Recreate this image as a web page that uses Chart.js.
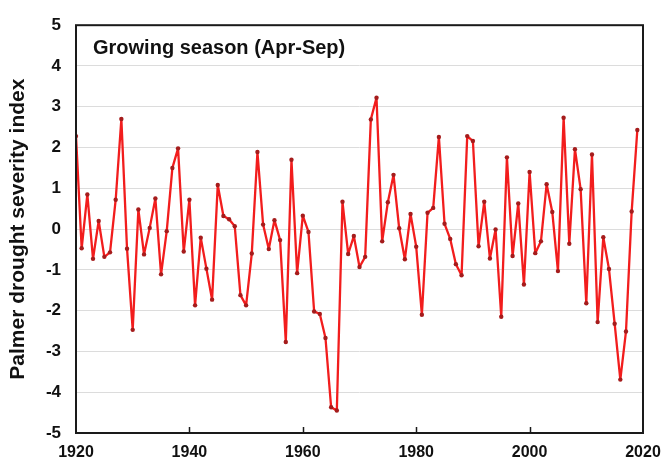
<!DOCTYPE html>
<html lang="en">
<head>
    <meta charset="UTF-8">
    <title>Palmer drought severity index</title>
    <script src="https://cdn.jsdelivr.net/npm/chart.js"></script>
    <style>
        html, body {
            margin: 0;
            padding: 0;
            background: #ffffff;
        }

        .chart-container {
            width: 663px;
            height: 461px;
        }
    </style>
</head>
<body>
    <div class="chart-container">
        <canvas id="pdsiChart"></canvas>
    </div>

    <script>
        // Data
        const years = [
            1920, 1921, 1922, 1923, 1924, 1925, 1926, 1927, 1928, 1929,
            1930, 1931, 1932, 1933, 1934, 1935, 1936, 1937, 1938, 1939,
            1940, 1941, 1942, 1943, 1944, 1945, 1946, 1947, 1948, 1949,
            1950, 1951, 1952, 1953, 1954, 1955, 1956, 1957, 1958, 1959,
            1960, 1961, 1962, 1963, 1964, 1965, 1966, 1967, 1968, 1969,
            1970, 1971, 1972, 1973, 1974, 1975, 1976, 1977, 1978, 1979,
            1980, 1981, 1982, 1983, 1984, 1985, 1986, 1987, 1988, 1989,
            1990, 1991, 1992, 1993, 1994, 1995, 1996, 1997, 1998, 1999,
            2000, 2001, 2002, 2003, 2004, 2005, 2006, 2007, 2008, 2009,
            2010, 2011, 2012, 2013, 2014, 2015, 2016, 2017, 2018, 2019
        ];
        const pdsi = [
            2.28, -0.47, 0.85, -0.73, 0.20, -0.68, -0.57, 0.72, 2.70, -0.48,
            -2.47, 0.48, -0.62, 0.03, 0.75, -1.11, -0.05, 1.50, 1.98, -0.55,
            0.72, -1.87, -0.21, -0.97, -1.73, 1.08, 0.32, 0.24, 0.07, -1.62,
            -1.87, -0.60, 1.89, 0.11, -0.49, 0.22, -0.27, -2.77, 1.70, -1.08,
            0.33, -0.07, -2.02, -2.08, -2.67, -4.37, -4.45, 0.67, -0.61, -0.17,
            -0.93, -0.68, 2.69, 3.22, -0.30, 0.66, 1.33, 0.02, -0.74, 0.37,
            -0.43, -2.10, 0.40, 0.52, 2.26, 0.13, -0.24, -0.86, -1.13, 2.28,
            2.16, -0.42, 0.67, -0.72, -0.01, -2.15, 1.76, -0.66, 0.63, -1.36,
            1.40, -0.59, -0.30, 1.10, 0.42, -1.03, 2.73, -0.36, 1.96, 0.98,
            -1.82, 1.83, -2.28, -0.20, -0.98, -2.32, -3.69, -2.51, 0.43, 2.43
        ];
        const xTicks = [1920, 1940, 1960, 1980, 2000, 2020];
        const yTicks = [-5, -4, -3, -2, -1, 0, 1, 2, 3, 4, 5];
        const panelTitle = 'Growing season (Apr-Sep)';

        const fontFamily = '"Liberation Sans", Arial, sans-serif';

        // Frame, inward x ticks and the panel label
        const framePlugin = {
            id: 'frame',
            afterDatasetsDraw(chart) {
                const { ctx, chartArea: a, scales } = chart;
                ctx.save();
                ctx.strokeStyle = '#1a1a1a';
                ctx.lineWidth = 2;
                ctx.strokeRect(a.left, a.top, a.right - a.left, a.bottom - a.top);

                ctx.lineWidth = 1.5;
                xTicks.slice(1, -1).forEach(v => {
                    const px = Math.round(scales.x.getPixelForValue(v)) + 0.5;
                    ctx.beginPath();
                    ctx.moveTo(px, a.bottom);
                    ctx.lineTo(px, a.bottom - 6);
                    ctx.stroke();
                });

                ctx.fillStyle = '#111111';
                ctx.font = 'bold 20px ' + fontFamily;
                ctx.textBaseline = 'middle';
                ctx.textAlign = 'left';
                ctx.fillText(panelTitle, a.left + 17, a.top + 23);
                ctx.restore();
            }
        };

        new Chart(document.getElementById('pdsiChart'), {
            type: 'line',
            data: {
                datasets: [{
                    data: years.map((y, i) => ({ x: y, y: pdsi[i] })),
                    borderColor: '#f21d1d',
                    borderWidth: 2.3,
                    borderJoinStyle: 'round',
                    borderCapStyle: 'round',
                    pointRadius: 2.2,
                    pointBackgroundColor: '#a51c1c',
                    pointBorderColor: '#a51c1c',
                    pointBorderWidth: 0,
                    tension: 0,
                    fill: false
                }]
            },
            options: {
                responsive: true,
                maintainAspectRatio: false,
                animation: false,
                layout: { padding: { top: 22, right: 20, left: 0, bottom: 0 } },
                plugins: {
                    legend: { display: false },
                    tooltip: { enabled: false }
                },
                scales: {
                    x: {
                        type: 'linear',
                        min: 1920,
                        max: 2020,
                        afterBuildTicks: s => { s.ticks = xTicks.map(v => ({ value: v })); },
                        afterFit: s => {
                            s.height = 28;
                            s.paddingLeft = 0;
                            s.paddingRight = 0;
                        },
                        grid: { display: false, drawTicks: false },
                        border: { display: false },
                        ticks: {
                            color: '#111111',
                            padding: 10,
                            maxRotation: 0,
                            font: { family: fontFamily, size: 16, weight: 'bold' },
                            callback: v => String(v)
                        }
                    },
                    y: {
                        min: -5,
                        max: 5,
                        afterBuildTicks: s => { s.ticks = yTicks.map(v => ({ value: v })); },
                        afterFit: s => { s.width = 76; },
                        grid: {
                            color: '#dcdcdc',
                            lineWidth: 1,
                            drawTicks: false
                        },
                        border: { display: false },
                        ticks: {
                            color: '#111111',
                            padding: 15,
                            font: { family: fontFamily, size: 17, weight: 'bold' }
                        },
                        title: {
                            display: true,
                            text: 'Palmer drought severity index',
                            color: '#111111',
                            padding: { top: 6, bottom: 0 },
                            font: { family: fontFamily, size: 21, weight: 'bold' }
                        }
                    }
                }
            },
            plugins: [framePlugin]
        });
    </script>
</body>
</html>
